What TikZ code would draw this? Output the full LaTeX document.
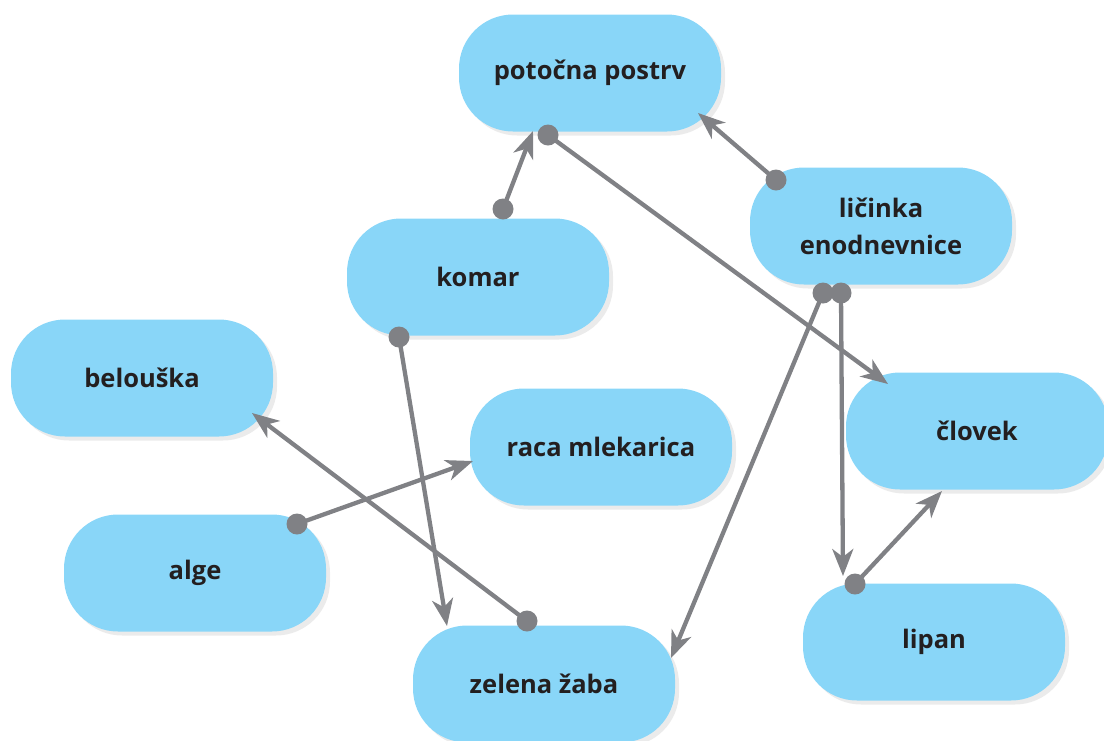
\documentclass[tikz,border=0pt]{standalone}
\usepackage{fontspec}
\setmainfont{Open Sans}
\usetikzlibrary{arrows.meta,calc,shadows}
\definecolor{boxblue}{RGB}{137,214,248}
\definecolor{arrgray}{RGB}{128,129,133}
\definecolor{txt}{RGB}{35,31,32}
\tikzset{
  species/.style={rectangle, rounded corners=54pt, fill=boxblue,
    minimum width=262pt, minimum height=117pt, inner sep=0pt,
    text=txt, font=\fontsize{25.5}{37}\selectfont\bfseries, align=center,
    drop shadow={shadow xshift=4pt, shadow yshift=-4pt, opacity=0.13, fill=black!60}},
  link/.style={draw=arrgray, line width=4.3pt,
    -{Stealth[length=27pt,width=21pt,inset=8pt]}},
  linkdot/.style={fill=arrgray}
}
\begin{document}
\begin{tikzpicture}[x=1pt,y=-1pt]
\useasboundingbox (0,0) rectangle (1104,740);
\node[species] (postrv) at (590,73) {potočna postrv};
\node[species] (licinka) at (881,226) {ličinka\\enodnevnice};
\node[species] (komar) at (478,277) {komar};
\node[species] (belouska) at (142,378) {belouška};
\node[species] (raca) at (601,447) {raca mlekarica};
\node[species] (clovek) at (977,431) {človek};
\node[species] (alge) at (195,573) {alge};
\node[species] (zaba) at (544,684) {zelena žaba};
\node[species] (lipan) at (934,642) {lipan};
% endpoints
\coordinate (s1) at ($(komar)+(25,-68)$);    \coordinate (e1) at ($(postrv)+(-57,58)$);
\coordinate (s2) at ($(postrv)+(-42,62)$);   \coordinate (e2) at ($(clovek)+(-89,-47)$);
\coordinate (s3) at ($(licinka)+(-105,-46)$);\coordinate (e3) at ($(postrv)+(108,40)$);
\coordinate (s4) at ($(licinka)+(-58,67)$);  \coordinate (e4) at ($(zaba)+(127,-26)$);
\coordinate (s5) at ($(licinka)+(-40,67)$);  \coordinate (e5) at ($(lipan)+(-91,-66)$);
\coordinate (s6) at ($(lipan)+(-79,-58)$);   \coordinate (e6) at ($(clovek)+(-35,60)$);
\coordinate (s7) at ($(komar)+(-79,60)$);    \coordinate (e7) at ($(zaba)+(-97,-58)$);
\coordinate (s8) at ($(zaba)+(-17,-63)$);    \coordinate (e8) at ($(belouska)+(110,35)$);
\coordinate (s9) at ($(alge)+(102,-49)$);    \coordinate (e9) at ($(raca)+(-128,14)$);
\foreach \i in {1,...,9}{
  \draw[link] (s\i) -- (e\i);
}
\foreach \i in {1,...,9}{
  \fill[linkdot] (s\i) circle (10.5pt);
}
\end{tikzpicture}
\end{document}
